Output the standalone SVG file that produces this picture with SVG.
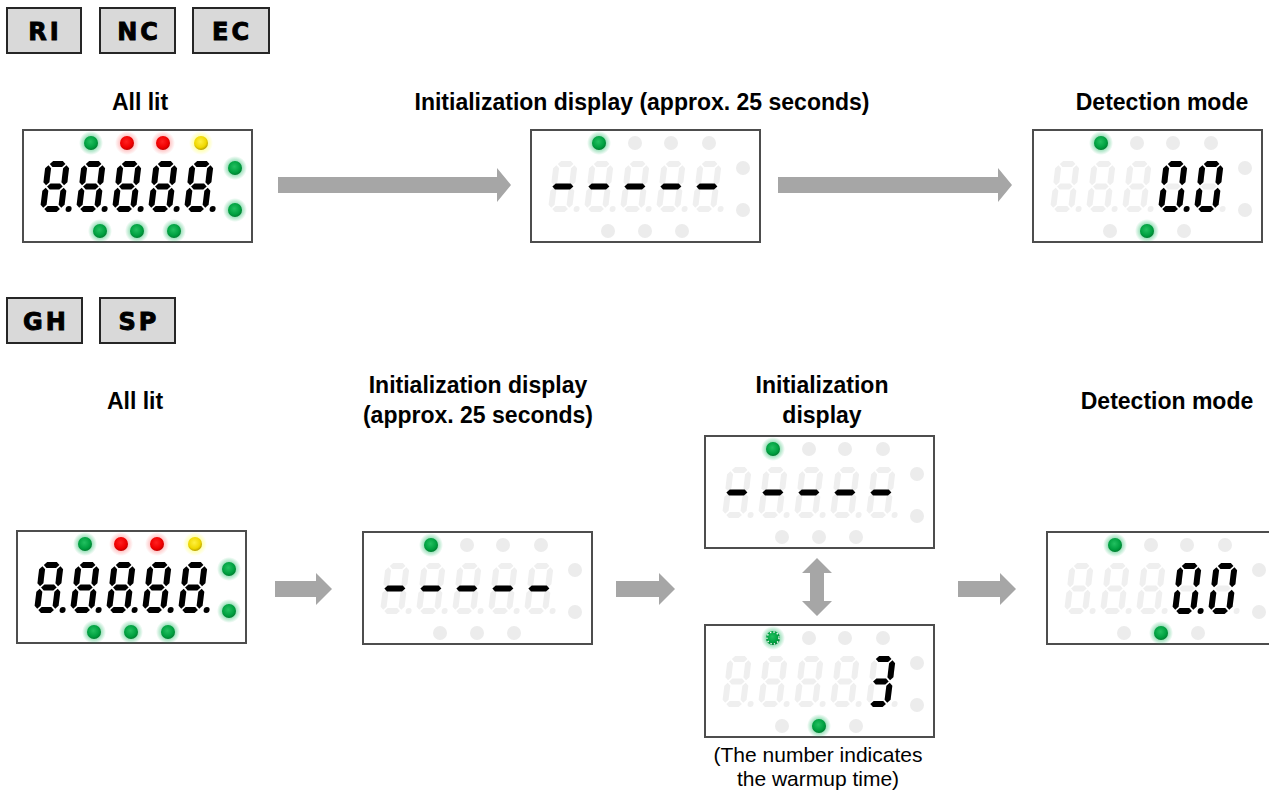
<svg xmlns="http://www.w3.org/2000/svg" xmlns:xlink="http://www.w3.org/1999/xlink" width="1269" height="798" viewBox="0 0 1269 798">
<style>
.tag rect{fill:#d9d9d9;stroke:#262626;stroke-width:2}
.tag text{font-family:"DejaVu Sans","Liberation Sans",sans-serif;font-weight:bold;font-size:24px;letter-spacing:3px;text-anchor:middle;fill:#000;stroke:#000;stroke-width:0.9}
.hd{font-family:"Liberation Sans",Arial,sans-serif;font-weight:bold;font-size:23px;text-anchor:middle;fill:#000}
.note{font-family:"Liberation Sans",Arial,sans-serif;font-size:21px;text-anchor:middle;fill:#000}
.box{fill:#fff;stroke:#4d4d4d;stroke-width:2}
.arrow{fill:#a6a6a6}
</style>
<defs>
<polygon id="sa" points="4.2,3 7.2,0 16.8,0 19.8,3 16.8,6 7.2,6"/>
<polygon id="sg" points="4.2,25.5 7.2,22.5 16.8,22.5 19.8,25.5 16.8,28.5 7.2,28.5"/>
<polygon id="sd" points="4.2,48 7.2,45 16.8,45 19.8,48 16.8,51 7.2,51"/>
<polygon id="sf" points="3,4.2 6,7.2 6,21.3 3,24.3 0,21.3 0,7.2"/>
<polygon id="sb" points="21,4.2 24,7.2 24,21.3 21,24.3 18,21.3 18,7.2"/>
<polygon id="se" points="3,26.7 6,29.7 6,43.8 3,46.8 0,43.8 0,29.7"/>
<polygon id="sc" points="21,26.7 24,29.7 24,43.8 21,46.8 18,43.8 18,29.7"/>
<circle id="sdp" cx="28.5" cy="48" r="3"/>
<polygon id="sdash" points="1.5,25.5 4.5,22.5 19.5,22.5 22.5,25.5 19.5,28.5 4.5,28.5"/>
<g id="s8"><use href="#sa"/><use href="#sb"/><use href="#sc"/><use href="#sd"/><use href="#se"/><use href="#sf"/><use href="#sg"/><use href="#sdp"/></g>
<g id="s0"><use href="#sa"/><use href="#sb"/><use href="#sc"/><use href="#sd"/><use href="#se"/><use href="#sf"/></g>
<g id="s3"><use href="#sa"/><use href="#sb"/><use href="#sc"/><use href="#sd"/><use href="#sg"/></g>
<g id="ghost5" fill="#efefef">
<use href="#s8" transform="translate(23,31) skewX(-7)"/>
<use href="#s8" transform="translate(59,31) skewX(-7)"/>
<use href="#s8" transform="translate(95,31) skewX(-7)"/>
<use href="#s8" transform="translate(131,31) skewX(-7)"/>
<use href="#s8" transform="translate(167,31) skewX(-7)"/>
</g>
<g id="lit8" fill="#000">
<use href="#s8" transform="translate(23,31) skewX(-7)"/>
<use href="#s8" transform="translate(59,31) skewX(-7)"/>
<use href="#s8" transform="translate(95,31) skewX(-7)"/>
<use href="#s8" transform="translate(131,31) skewX(-7)"/>
<use href="#s8" transform="translate(167,31) skewX(-7)"/>
</g>
<g id="dashes" fill="#000">
<use href="#sdash" transform="translate(23,31) skewX(-7)"/>
<use href="#sdash" transform="translate(59,31) skewX(-7)"/>
<use href="#sdash" transform="translate(95,31) skewX(-7)"/>
<use href="#sdash" transform="translate(131,31) skewX(-7)"/>
<use href="#sdash" transform="translate(167,31) skewX(-7)"/>
</g>
<g id="zero0" fill="#000">
<use href="#s0" transform="translate(131,31) skewX(-7)"/>
<use href="#sdp" transform="translate(131,31) skewX(-7)"/>
<use href="#s0" transform="translate(167,31) skewX(-7)"/>
</g>
<g id="ledsOff" fill="#ececec">
<circle cx="68" cy="13" r="7"/><circle cx="104" cy="13" r="7"/><circle cx="140" cy="13" r="7"/><circle cx="178" cy="13" r="7"/>
<circle cx="212" cy="38" r="7"/><circle cx="212" cy="80" r="7"/>
<circle cx="77" cy="101" r="7"/><circle cx="114" cy="101" r="7"/><circle cx="151" cy="101" r="7"/>
</g>
<radialGradient id="bG" cx="0.45" cy="0.4" r="0.6"><stop offset="0" stop-color="#22c060"/><stop offset="0.7" stop-color="#00a040"/><stop offset="1" stop-color="#007f30"/></radialGradient>
<radialGradient id="bR" cx="0.45" cy="0.4" r="0.6"><stop offset="0" stop-color="#ff2020"/><stop offset="0.7" stop-color="#f00000"/><stop offset="1" stop-color="#c00000"/></radialGradient>
<radialGradient id="bY" cx="0.45" cy="0.4" r="0.6"><stop offset="0" stop-color="#fff040"/><stop offset="0.7" stop-color="#f0d800"/><stop offset="1" stop-color="#b8a000"/></radialGradient>
<radialGradient id="wG"><stop offset="0.5" stop-color="#00b050" stop-opacity="0.45"/><stop offset="1" stop-color="#00b050" stop-opacity="0"/></radialGradient>
<radialGradient id="wR"><stop offset="0.5" stop-color="#ff4040" stop-opacity="0.35"/><stop offset="1" stop-color="#ff4040" stop-opacity="0"/></radialGradient>
<radialGradient id="wY"><stop offset="0.5" stop-color="#ffff40" stop-opacity="0.5"/><stop offset="1" stop-color="#ffff40" stop-opacity="0"/></radialGradient>
<g id="ledG"><circle r="12" fill="url(#wG)"/><circle r="7" fill="url(#bG)"/></g>
<g id="ledR"><circle r="12" fill="url(#wR)"/><circle r="7" fill="url(#bR)"/></g>
<g id="ledY"><circle r="12" fill="url(#wY)"/><circle r="7" fill="url(#bY)"/></g>
<g id="ledStar"><circle r="12" fill="url(#wG)"/><circle r="7" fill="url(#bG)"/><circle r="6" fill="none" stroke="#fff" stroke-width="1.4" stroke-dasharray="1.3 2.2"/></g>
<g id="allLit">
<rect class="box" x="0" y="0" width="229" height="112"/>
<use href="#lit8"/>
<use href="#ledG" x="68" y="13"/><use href="#ledR" x="104" y="13"/><use href="#ledR" x="140" y="13"/><use href="#ledY" x="178" y="13"/>
<use href="#ledG" x="212" y="38"/><use href="#ledG" x="212" y="80"/>
<use href="#ledG" x="77" y="101"/><use href="#ledG" x="114" y="101"/><use href="#ledG" x="151" y="101"/>
</g>
<g id="initDisp">
<rect class="box" x="0" y="0" width="229" height="112"/>
<use href="#ghost5"/><use href="#ledsOff"/>
<use href="#dashes"/>
<use href="#ledG" x="68" y="13"/>
</g>
<g id="detDisp">
<rect class="box" x="0" y="0" width="229" height="112"/>
<use href="#ghost5"/><use href="#ledsOff"/>
<use href="#zero0"/>
<use href="#ledG" x="68" y="13"/><use href="#ledG" x="114" y="101"/>
</g>
</defs>

<g id="tag-RI" class="tag"><rect x="7" y="8" width="74" height="45"/><text x="45" y="40">RI</text></g>
<g id="tag-NC" class="tag"><rect x="100" y="8" width="75" height="45"/><text x="139" y="40">NC</text></g>
<g id="tag-EC" class="tag"><rect x="193" y="8" width="76" height="45"/><text x="232" y="40">EC</text></g>
<g id="tag-GH" class="tag"><rect x="7" y="298" width="75" height="45"/><text x="46" y="330">GH</text></g>
<g id="tag-SP" class="tag"><rect x="100" y="298" width="75" height="45"/><text x="139" y="330">SP</text></g>

<g id="labels">
<text class="hd" x="140" y="110">All lit</text>
<text class="hd" x="642" y="110">Initialization display (approx. 25 seconds)</text>
<text class="hd" x="1162" y="110">Detection mode</text>
<text class="hd" x="135" y="409">All lit</text>
<text class="hd" x="478" y="393">Initialization display</text>
<text class="hd" x="478" y="423">(approx. 25 seconds)</text>
<text class="hd" x="822" y="393">Initialization</text>
<text class="hd" x="822" y="423">display</text>
<text class="hd" x="1167" y="409">Detection mode</text>
<text class="note" x="818" y="762">(The number indicates</text>
<text class="note" x="818" y="786">the warmup time)</text>
</g>

<g id="node-top-alllit" transform="translate(23,130)"><use href="#allLit"/></g>
<g id="node-top-init" transform="translate(531,130)"><use href="#initDisp"/></g>
<g id="node-top-detect" transform="translate(1033,130)"><use href="#detDisp"/></g>
<g id="node-bot-alllit" transform="translate(17,531)"><use href="#allLit"/></g>
<g id="node-bot-init" transform="translate(363,532)"><use href="#initDisp"/></g>
<g id="node-bot-init2" transform="translate(705,436)"><use href="#initDisp"/></g>
<g id="node-bot-warmup" transform="translate(705,625)">
<rect class="box" x="0" y="0" width="229" height="112"/>
<use href="#ghost5"/><use href="#ledsOff"/>
<use href="#s3" fill="#000" transform="translate(167,31) skewX(-7)"/>
<use href="#ledStar" x="68" y="13"/><use href="#ledG" x="114" y="101"/>
</g>
<g id="node-bot-detect" transform="translate(1047,532)"><use href="#detDisp"/></g>

<g id="connectors" class="arrow">
<polygon points="278,177 497,177 497,168 511,185 497,202 497,193 278,193"/>
<polygon points="778,177 998,177 998,168 1012,185 998,202 998,193 778,193"/>
<polygon points="275,581 316,581 316,573 332,589 316,605 316,597 275,597"/>
<polygon points="616,581 659,581 659,573 675,589 659,605 659,597 616,597"/>
<polygon points="958,581 1000,581 1000,573 1016,589 1000,605 1000,597 958,597"/>
<polygon points="817,558 832,573 824,573 824,601 832,601 817,616 802,601 810,601 810,573 802,573"/>
</g>
</svg>
